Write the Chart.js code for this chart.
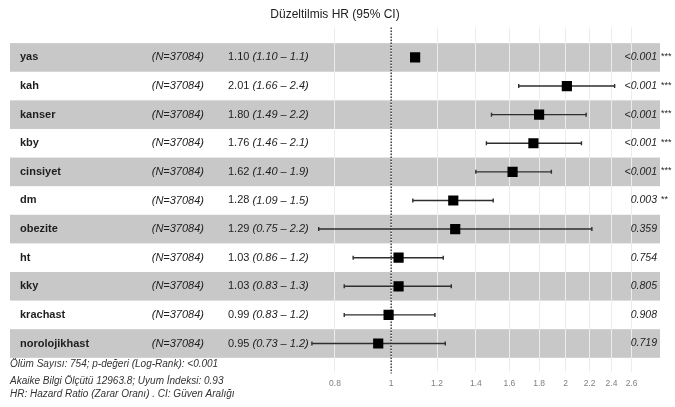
<!DOCTYPE html>
<html>
<head>
<meta charset="utf-8">
<script src="https://cdn.jsdelivr.net/npm/chart.js@4"></script>
<style>
html, body { margin: 0; padding: 0; background: #fff; }
#wrap { width: 675px; height: 407px; }
</style>
</head>
<body>
<div id="wrap"><canvas id="forest"></canvas></div>
<script>
// data
const variables = ['yas', 'kah', 'kanser', 'kby', 'cinsiyet', 'dm', 'obezite', 'ht', 'kky', 'krachast', 'norolojikhast'];
const nText = '(N=37084)';
const hr = [1.10, 2.01, 1.80, 1.76, 1.62, 1.28, 1.29, 1.03, 1.03, 0.99, 0.95];
const ciLow = [1.095, 1.66, 1.49, 1.46, 1.40, 1.09, 0.75, 0.86, 0.83, 0.83, 0.73];
const ciHigh = [1.105, 2.43, 2.17, 2.13, 1.89, 1.50, 2.22, 1.23, 1.27, 1.19, 1.24];
const ciText = ['(1.10 – 1.1)', '(1.66 – 2.4)', '(1.49 – 2.2)', '(1.46 – 2.1)', '(1.40 – 1.9)', '(1.09 – 1.5)',
  '(0.75 – 2.2)', '(0.86 – 1.2)', '(0.83 – 1.3)', '(0.83 – 1.2)', '(0.73 – 1.2)'];
const pText = ['<0.001', '<0.001', '<0.001', '<0.001', '<0.001', '0.003', '0.359', '0.754', '0.805', '0.908', '0.719'];
const stars = ['***', '***', '***', '***', '***', '**', '', '', '', '', ''];
const tickVals = [0.8, 1, 1.2, 1.4, 1.6, 1.8, 2, 2.2, 2.4, 2.6];
const footer = [
  'Ölüm Sayısı: 754; p-değeri (Log-Rank): <0.001',
  'Akaike Bilgi Ölçütü 12963.8; Uyum İndeksi: 0.93',
  'HR: Hazard Ratio (Zarar Oranı) . CI: Güven Aralığı'
];

const FONT = "'Liberation Sans', Arial, sans-serif";

const ciSets = variables.map((v, i) => ({
  type: 'scatter',
  showLine: true,
  data: [{ x: ciLow[i], y: i }, { x: ciHigh[i], y: i }],
  borderColor: '#2e2e2e',
  borderWidth: 1.4,
  pointStyle: 'line',
  rotation: 90,
  pointRadius: 2,
  pointBorderColor: '#2e2e2e',
  pointBorderWidth: 1.4,
  order: 1
}));

const tablePlugin = {
  id: 'table',
  beforeDraw(chart) {
    const { ctx, chartArea: a, scales: { y } } = chart;
    ctx.save();
    ctx.fillStyle = '#fff';
    ctx.fillRect(0, 0, chart.width, chart.height);
    ctx.fillStyle = '#c8c8c8';
    variables.forEach((v, i) => {
      if (i % 2) return;
      const t = y.getPixelForValue(i - 0.5), b = y.getPixelForValue(i + 0.5);
      ctx.fillRect(a.left, t, a.right - a.left, b - t);
    });
    ctx.restore();
  },
  afterDraw(chart) {
    const { ctx, scales: { y } } = chart;
    ctx.save();
    ctx.textBaseline = 'middle';
    ctx.fillStyle = '#1e1e1e';
    variables.forEach((v, i) => {
      const py = y.getPixelForValue(i);
      ctx.font = 'bold 11px ' + FONT;
      ctx.textAlign = 'left';
      ctx.fillText(v, 20, py);
      ctx.font = 'italic 11px ' + FONT;
      ctx.textAlign = 'right';
      ctx.fillText(nText, 204, py);
      ctx.textAlign = 'left';
      ctx.font = '11px ' + FONT;
      const h = hr[i].toFixed(2) + ' ';
      ctx.fillText(h, 228, py);
      const w = ctx.measureText(h).width;
      ctx.font = 'italic 11px ' + FONT;
      ctx.fillText(ciText[i], 228 + w, py);
      ctx.font = 'italic 10.5px ' + FONT;
      ctx.textAlign = 'right';
      ctx.fillText(pText[i], 657, py);
      if (stars[i]) {
        ctx.font = '9px ' + FONT;
        ctx.textAlign = 'left';
        ctx.fillText(stars[i], 661, py - 1);
      }
    });
    ctx.font = 'italic 10px ' + FONT;
    ctx.fillStyle = '#333';
    ctx.textAlign = 'left';
    const fy = [364, 381, 394];
    footer.forEach((f, k) => ctx.fillText(f, 10, fy[k]));
    ctx.restore();
  }
};

new Chart(document.getElementById('forest'), {
  type: 'scatter',
  data: {
    datasets: [
      {
        data: hr.map((v, i) => ({ x: v, y: i })),
        pointStyle: 'rect',
        pointRadius: 7.2,
        backgroundColor: '#000',
        borderColor: '#000',
        borderWidth: 0,
        order: 0
      },
      ...ciSets,
      {
        type: 'scatter',
        showLine: true,
        data: [{ x: 1, y: -1.05 }, { x: 1, y: 11.05 }],
        borderColor: '#000',
        borderWidth: 1.1,
        borderDash: [1.5, 1.5],
        pointRadius: 0,
        clip: false,
        order: 2
      }
    ]
  },
  options: {
    responsive: true,
    maintainAspectRatio: false,
    animation: false,
    layout: { padding: { left: 10, right: 15, top: 0, bottom: 11 } },
    plugins: {
      legend: { display: false },
      tooltip: { enabled: false },
      title: {
        display: true,
        text: 'Düzeltilmis HR (95% CI)',
        color: '#222',
        font: { family: FONT, size: 12, weight: 'normal' },
        padding: { top: 7, bottom: 6 }
      }
    },
    scales: {
      x: {
        type: 'logarithmic',
        min: 0.22,
        max: 2.91,
        bounds: 'data',
        afterBuildTicks: s => { s.ticks = tickVals.map(v => ({ value: v })); },
        grid: { color: '#ececec', tickLength: 14 },
        border: { display: false },
        ticks: {
          autoSkip: false, maxRotation: 0, padding: 7, color: '#808080',
          font: { family: FONT, size: 8.5 },
          callback: v => String(v)
        }
      },
      y: {
        type: 'linear',
        reverse: true,
        min: -1.05,
        max: 10.5,
        display: false
      }
    }
  },
  plugins: [tablePlugin]
});
</script>
</body>
</html>
